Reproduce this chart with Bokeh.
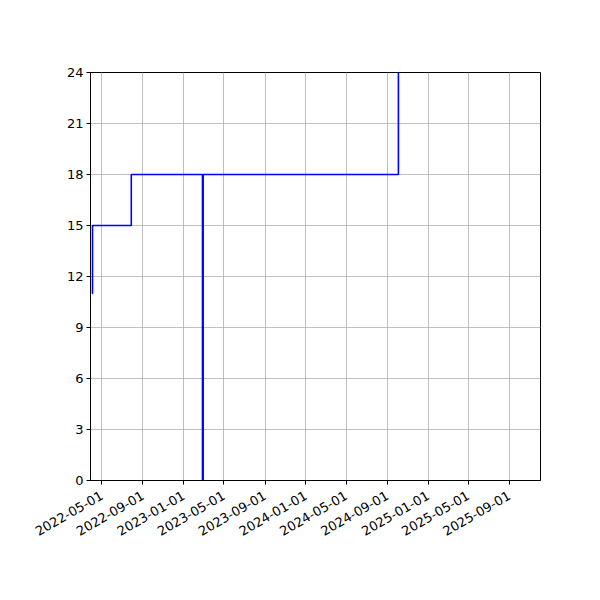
import math
from datetime import datetime
from bokeh.plotting import figure
from bokeh.models import Range1d, FixedTicker, DatetimeTickFormatter, ColumnDataSource
from bokeh.embed import file_html
from bokeh.resources import INLINE

# data
dates = ["2022-04-02", "2022-04-03", "2022-07-28", "2023-02-26", "2023-02-28", "2024-10-04"]
values = [11, 15, 18, 0, 18, 30]
x_tick_labels = ["2022-05-01", "2022-09-01", "2023-01-01", "2023-05-01", "2023-09-01",
                 "2024-01-01", "2024-05-01", "2024-09-01", "2025-01-01", "2025-05-01",
                 "2025-09-01"]
y_ticks = [0, 3, 6, 9, 12, 15, 18, 21, 24]
x_start, x_end = "2022-03-28", "2025-12-03"
y_start, y_end = 0, 24


def ms(s):
    return (datetime.strptime(s, "%Y-%m-%d") - datetime(1970, 1, 1)).total_seconds() * 1000.0


src = ColumnDataSource(dict(x=[datetime.strptime(d, "%Y-%m-%d") for d in dates], y=values))

p = figure(width=584, height=584, x_axis_type="datetime",
           output_backend="svg", toolbar_location=None,
           x_range=Range1d(ms(x_start), ms(x_end)), y_range=Range1d(y_start, y_end),
           min_border_left=90, min_border_right=44, min_border_top=72, min_border_bottom=104)

p.step("x", "y", source=src, mode="after", line_color="#0000ff", line_width=1.6)

p.xaxis.ticker = FixedTicker(ticks=[ms(t) for t in x_tick_labels])
p.xaxis.formatter = DatetimeTickFormatter(days="%Y-%m-%d", months="%Y-%m-%d", years="%Y-%m-%d")
p.xaxis.major_label_orientation = math.radians(30)
p.yaxis.ticker = FixedTicker(ticks=y_ticks)

for ax in (p.xaxis, p.yaxis):
    ax.major_label_text_font = "DejaVu Sans"
    ax.major_label_text_font_size = "13px"
    ax.major_label_text_color = "black"
    ax.major_tick_in = 0
    ax.major_tick_out = 4
    ax.minor_tick_line_color = None
    ax.axis_line_color = "black"
    ax.major_tick_line_color = "black"
    ax.major_label_standoff = 3
p.xaxis.major_label_standoff = 10

for g in (p.xgrid, p.ygrid):
    g.grid_line_color = "#b0b0b0"
    g.grid_line_width = 0.8
    g.grid_line_alpha = 1.0

p.outline_line_color = "black"
p.outline_line_width = 1
p.background_fill_color = "white"
p.border_fill_color = "white"

open("out.html", "w").write(file_html(p, INLINE))
